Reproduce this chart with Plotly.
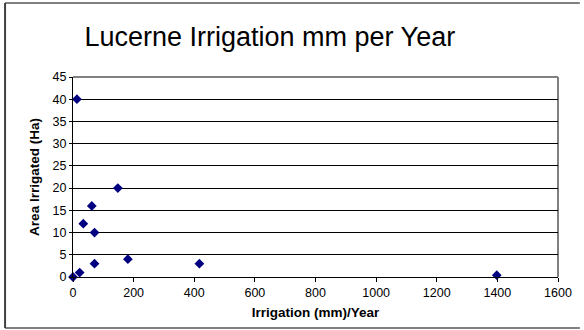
import plotly.graph_objects as go

irrigation_mm = [0, 13, 22, 34, 62, 71, 71, 148, 181, 417, 1398]
area_ha = [0, 40, 1, 12, 16, 10, 3, 20, 4, 3, 0.4]

x_ticks = [0, 200, 400, 600, 800, 1000, 1200, 1400, 1600]
y_ticks = [0, 5, 10, 15, 20, 25, 30, 35, 40, 45]

L, R, T, B = 73, 22, 77, 53
W, H = 584, 330
pw, ph = W - L - R, H - T - B

def px(xp):
    return (xp - L) / pw

def py(yp):
    return (H - B - yp) / ph

fig = go.Figure()
fig.add_trace(go.Scatter(
    x=irrigation_mm, y=area_ha, mode="markers",
    marker=dict(symbol="diamond", size=7.5, color="#000080"),
    showlegend=False, cliponaxis=False,
))

fig.update_layout(
    width=W, height=H,
    margin=dict(l=L, r=R, t=T, b=B),
    paper_bgcolor="white", plot_bgcolor="white",
    font=dict(family="Liberation Sans, Arial, sans-serif", size=12.5, color="black"),
    title=dict(text="Lucerne Irrigation mm per Year", x=0.462, xanchor="center",
               y=1 - 37 / H, yanchor="middle",
               font=dict(size=27, color="black")),
    xaxis=dict(range=[0, 1600], tickvals=x_ticks, ticktext=[str(v) for v in x_ticks],
               showgrid=False, zeroline=False, showline=True, linecolor="black",
               linewidth=1, ticks="outside", ticklen=4, tickcolor="black",
               tickfont=dict(size=12.5),
               title=dict(text="<b>Irrigation (mm)/Year</b>", standoff=8,
                          font=dict(size=13.5))),
    yaxis=dict(range=[0, 45], tickvals=y_ticks, ticktext=[str(v) for v in y_ticks],
               showgrid=True, gridcolor="black", gridwidth=1, zeroline=False,
               showline=True, linecolor="black", linewidth=1, ticks="outside",
               ticklen=3, tickcolor="black", tickfont=dict(size=12.5),
               title=dict(text="<b>Area Irrigated (Ha)</b>", standoff=9,
                          font=dict(size=13.5))),
)

# plot area border (top and right, grey)
fig.add_shape(type="line", xref="paper", yref="paper", x0=0, x1=1, y0=1, y1=1,
              line=dict(color="#808080", width=2), layer="below")
fig.add_shape(type="line", xref="paper", yref="paper", x0=1, x1=1, y0=0, y1=1,
              line=dict(color="#808080", width=2), layer="below")

# outer chart frame (left, top, bottom; right edge lies beyond the image)
fig.add_shape(type="line", xref="paper", yref="paper",
              x0=px(4.5), x1=px(584), y0=py(3), y1=py(3),
              line=dict(color="black", width=1))
fig.add_shape(type="line", xref="paper", yref="paper",
              x0=px(4.5), x1=px(584), y0=py(328), y1=py(328),
              line=dict(color="black", width=1))
fig.add_shape(type="line", xref="paper", yref="paper",
              x0=px(4.5), x1=px(4.5), y0=py(328), y1=py(3),
              line=dict(color="#404040", width=2))

fig.write_html("out.html", config={"displayModeBar": False})
